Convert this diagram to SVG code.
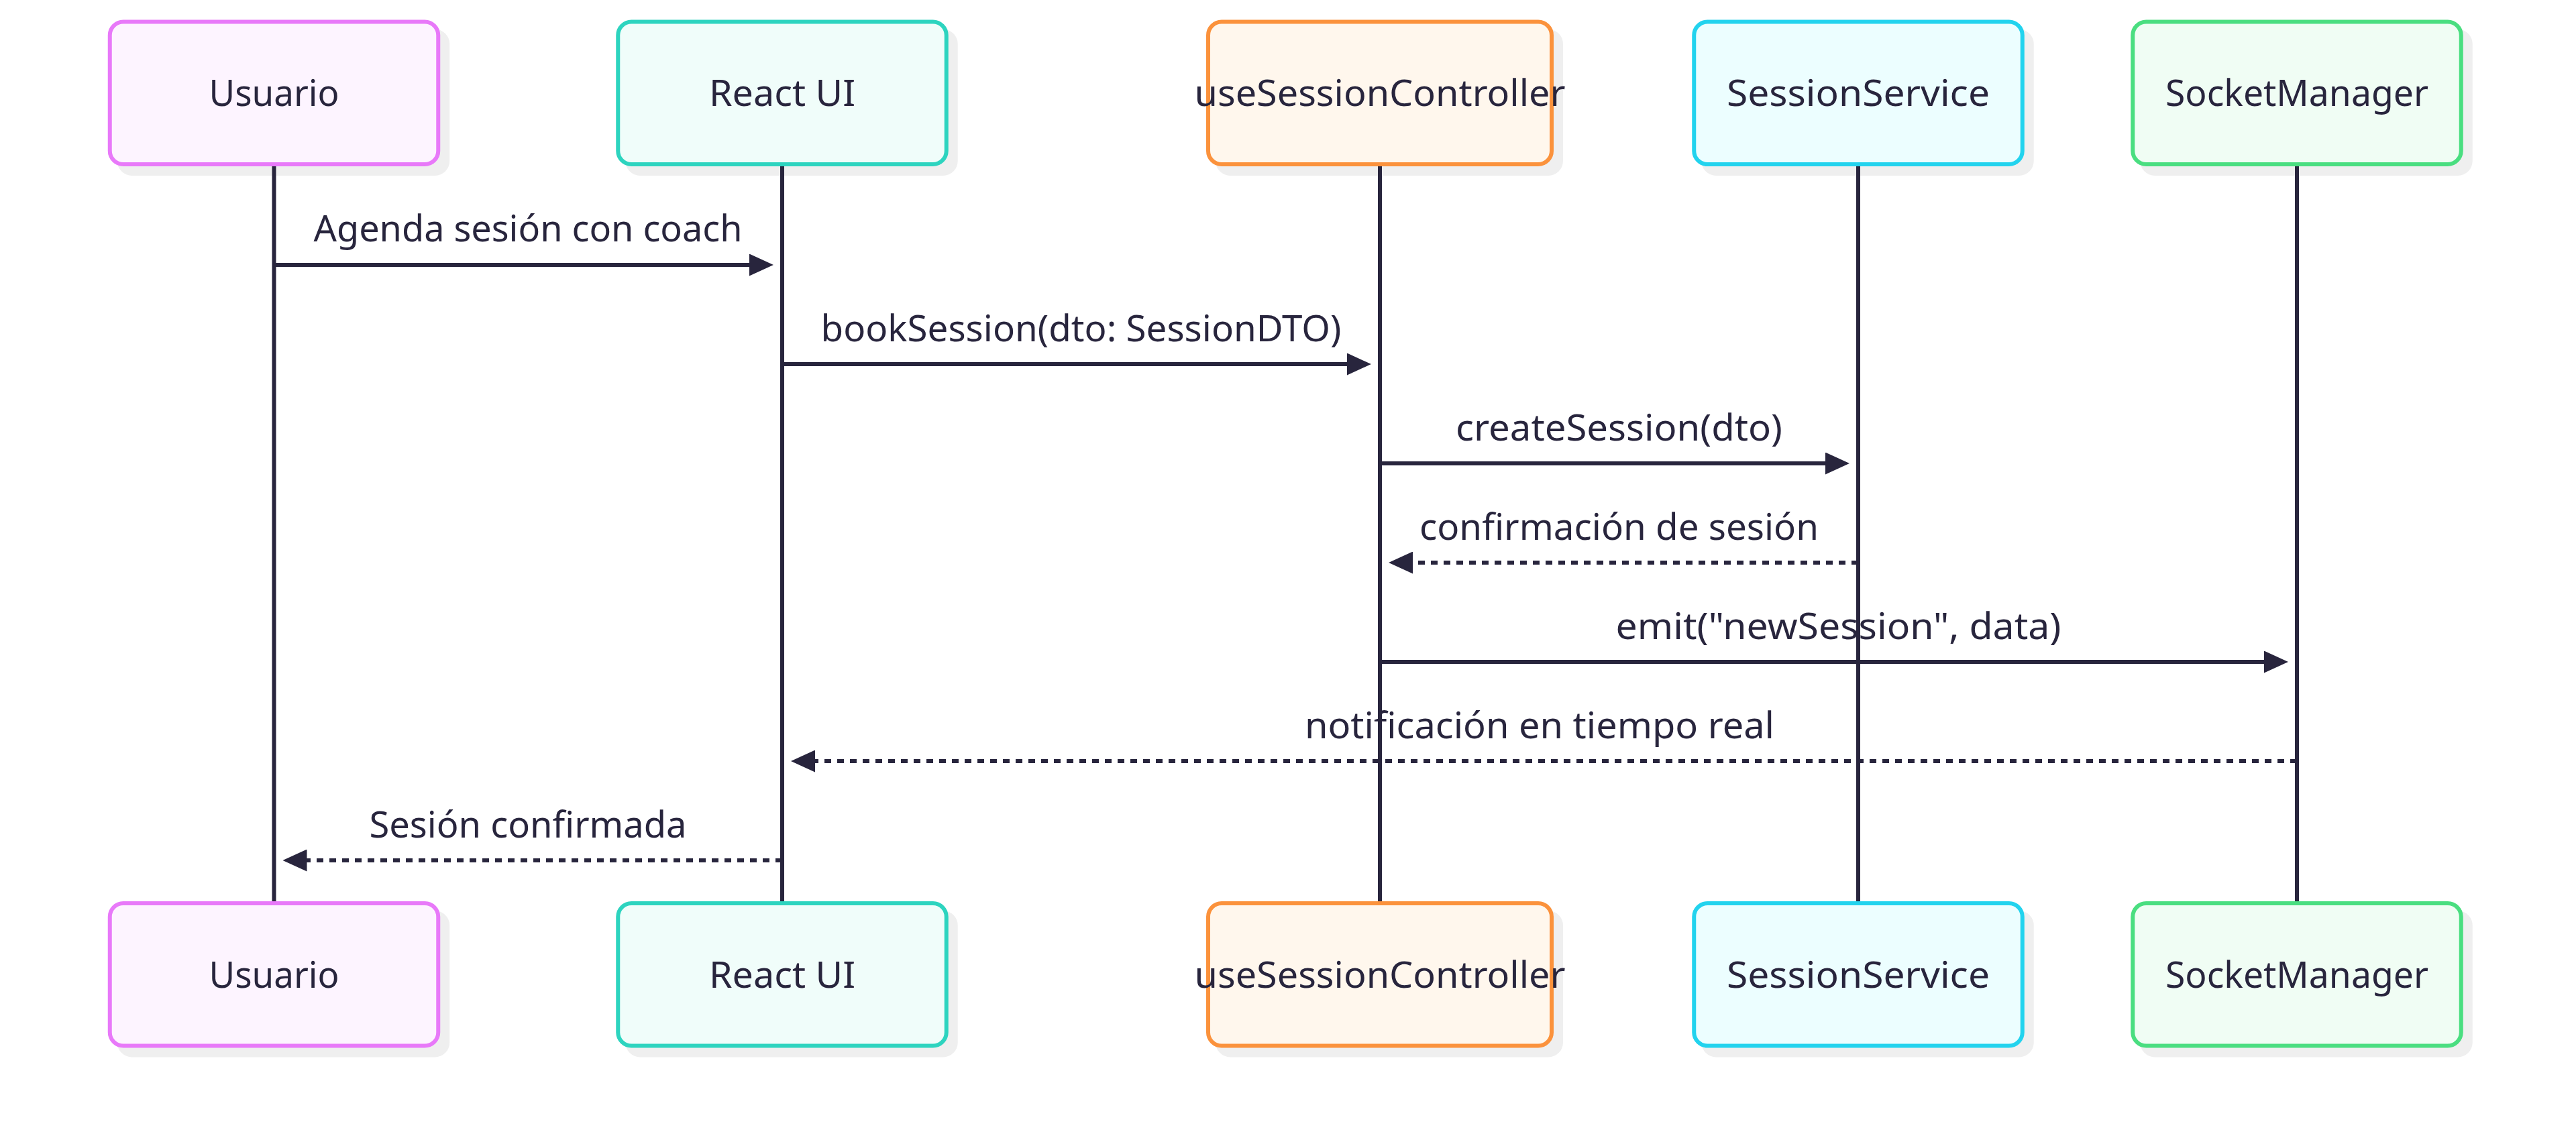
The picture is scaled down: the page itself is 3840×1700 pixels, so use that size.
<svg xmlns="http://www.w3.org/2000/svg" width="3840" height="1700" viewBox="0 0 3840 1700">
<style>
  text { font-family: "Noto Sans", "Open Sans", "DejaVu Sans", sans-serif; font-size: 55px; fill: #28253d; text-anchor: middle; }
  .shadow { fill: #efefef; }
  .box { stroke-width: 6; }
  .life { stroke: #28253d; stroke-width: 6; fill: none; }
  .msg { stroke: #28253d; stroke-width: 6; fill: none; marker-end: url(#arrow); }
  .dash { stroke-dasharray: 10 9; }
  .u { fill: #fdf4ff; stroke: #e879f9; }
  .r { fill: #f0fdfa; stroke: #2dd4bf; }
  .c { fill: #fff7ed; stroke: #fb923c; }
  .s { fill: #ecfeff; stroke: #22d3ee; }
  .k { fill: #f0fdf4; stroke: #4ade80; }
</style>
<defs>
  <marker id="arrow" viewBox="0 0 36 33" refX="18" refY="16.5" markerWidth="36" markerHeight="33" markerUnits="userSpaceOnUse" orient="auto">
    <polygon points="0,0 36,16.5 0,33" fill="#28253d"/>
  </marker>
</defs>
<rect x="0" y="0" width="3840" height="1700" fill="#ffffff"/>

<g id="actor-usuario-top">
  <rect class="shadow" x="174.75" y="43.5" width="495.5" height="218.5" rx="22"/>
  <rect class="box u" x="163.75" y="32.5" width="489.5" height="212.5" rx="20"/>
  <text x="408.5" y="158" textLength="194" lengthAdjust="spacingAndGlyphs">Usuario</text>
</g>
<g id="actor-react-top">
  <rect class="shadow" x="932.25" y="43.5" width="495.5" height="218.5" rx="22"/>
  <rect class="box r" x="921.25" y="32.5" width="489.5" height="212.5" rx="20"/>
  <text x="1166" y="158" textLength="218" lengthAdjust="spacingAndGlyphs">React UI</text>
</g>
<g id="actor-controller-top">
  <rect class="shadow" x="1812" y="43.5" width="518" height="218.5" rx="22"/>
  <rect class="box c" x="1801" y="32.5" width="512" height="212.5" rx="20"/>
  <text x="2057" y="158" textLength="553" lengthAdjust="spacingAndGlyphs">useSessionController</text>
</g>
<g id="actor-service-top">
  <rect class="shadow" x="2536.25" y="43.5" width="495.5" height="218.5" rx="22"/>
  <rect class="box s" x="2525.25" y="32.5" width="489.5" height="212.5" rx="20"/>
  <text x="2770" y="158" textLength="392" lengthAdjust="spacingAndGlyphs">SessionService</text>
</g>
<g id="actor-socket-top">
  <rect class="shadow" x="3190.25" y="43.5" width="495.5" height="218.5" rx="22"/>
  <rect class="box k" x="3179.25" y="32.5" width="489.5" height="212.5" rx="20"/>
  <text x="3424" y="158" textLength="392" lengthAdjust="spacingAndGlyphs">SocketManager</text>
</g>

<g id="actor-usuario-bottom">
  <rect class="shadow" x="174.75" y="1358" width="495.5" height="218.5" rx="22"/>
  <rect class="box u" x="163.75" y="1347" width="489.5" height="212.5" rx="20"/>
  <text x="408.5" y="1472.5" textLength="194" lengthAdjust="spacingAndGlyphs">Usuario</text>
</g>
<g id="actor-react-bottom">
  <rect class="shadow" x="932.25" y="1358" width="495.5" height="218.5" rx="22"/>
  <rect class="box r" x="921.25" y="1347" width="489.5" height="212.5" rx="20"/>
  <text x="1166" y="1472.5" textLength="218" lengthAdjust="spacingAndGlyphs">React UI</text>
</g>
<g id="actor-controller-bottom">
  <rect class="shadow" x="1812" y="1358" width="518" height="218.5" rx="22"/>
  <rect class="box c" x="1801" y="1347" width="512" height="212.5" rx="20"/>
  <text x="2057" y="1472.5" textLength="553" lengthAdjust="spacingAndGlyphs">useSessionController</text>
</g>
<g id="actor-service-bottom">
  <rect class="shadow" x="2536.25" y="1358" width="495.5" height="218.5" rx="22"/>
  <rect class="box s" x="2525.25" y="1347" width="489.5" height="212.5" rx="20"/>
  <text x="2770" y="1472.5" textLength="392" lengthAdjust="spacingAndGlyphs">SessionService</text>
</g>
<g id="actor-socket-bottom">
  <rect class="shadow" x="3190.25" y="1358" width="495.5" height="218.5" rx="22"/>
  <rect class="box k" x="3179.25" y="1347" width="489.5" height="212.5" rx="20"/>
  <text x="3424" y="1472.5" textLength="392" lengthAdjust="spacingAndGlyphs">SocketManager</text>
</g>

<g id="lifelines">
  <line class="life" x1="408.5" y1="248" x2="408.5" y2="1344"/>
  <line class="life" x1="1166" y1="248" x2="1166" y2="1344"/>
  <line class="life" x1="2057" y1="248" x2="2057" y2="1344"/>
  <line class="life" x1="2770" y1="248" x2="2770" y2="1344"/>
  <line class="life" x1="3424" y1="248" x2="3424" y2="1344"/>
</g>

<g id="connectors">
  <line class="msg" x1="408.5" y1="395" x2="1135" y2="395"/>
  <text x="787" y="360" textLength="639" lengthAdjust="spacingAndGlyphs">Agenda sesión con coach</text>

  <line class="msg" x1="1166" y1="543" x2="2026" y2="543"/>
  <text x="1611.5" y="509" textLength="776" lengthAdjust="spacingAndGlyphs">bookSession(dto: SessionDTO)</text>

  <line class="msg" x1="2057" y1="691" x2="2739" y2="691"/>
  <text x="2413.5" y="657" textLength="487" lengthAdjust="spacingAndGlyphs">createSession(dto)</text>

  <line class="msg dash" x1="2770" y1="839" x2="2088" y2="839"/>
  <text x="2413.5" y="805" textLength="595" lengthAdjust="spacingAndGlyphs">confirmación de sesión</text>

  <line class="msg" x1="2057" y1="987" x2="3393" y2="987"/>
  <text x="2740.5" y="953" textLength="664" lengthAdjust="spacingAndGlyphs">emit("newSession", data)</text>

  <line class="msg dash" x1="3424" y1="1135" x2="1197" y2="1135"/>
  <text x="2295" y="1101" textLength="700" lengthAdjust="spacingAndGlyphs">notificación en tiempo real</text>

  <line class="msg dash" x1="1166" y1="1283" x2="439.5" y2="1283"/>
  <text x="787" y="1249" textLength="473" lengthAdjust="spacingAndGlyphs">Sesión confirmada</text>
</g>
</svg>
